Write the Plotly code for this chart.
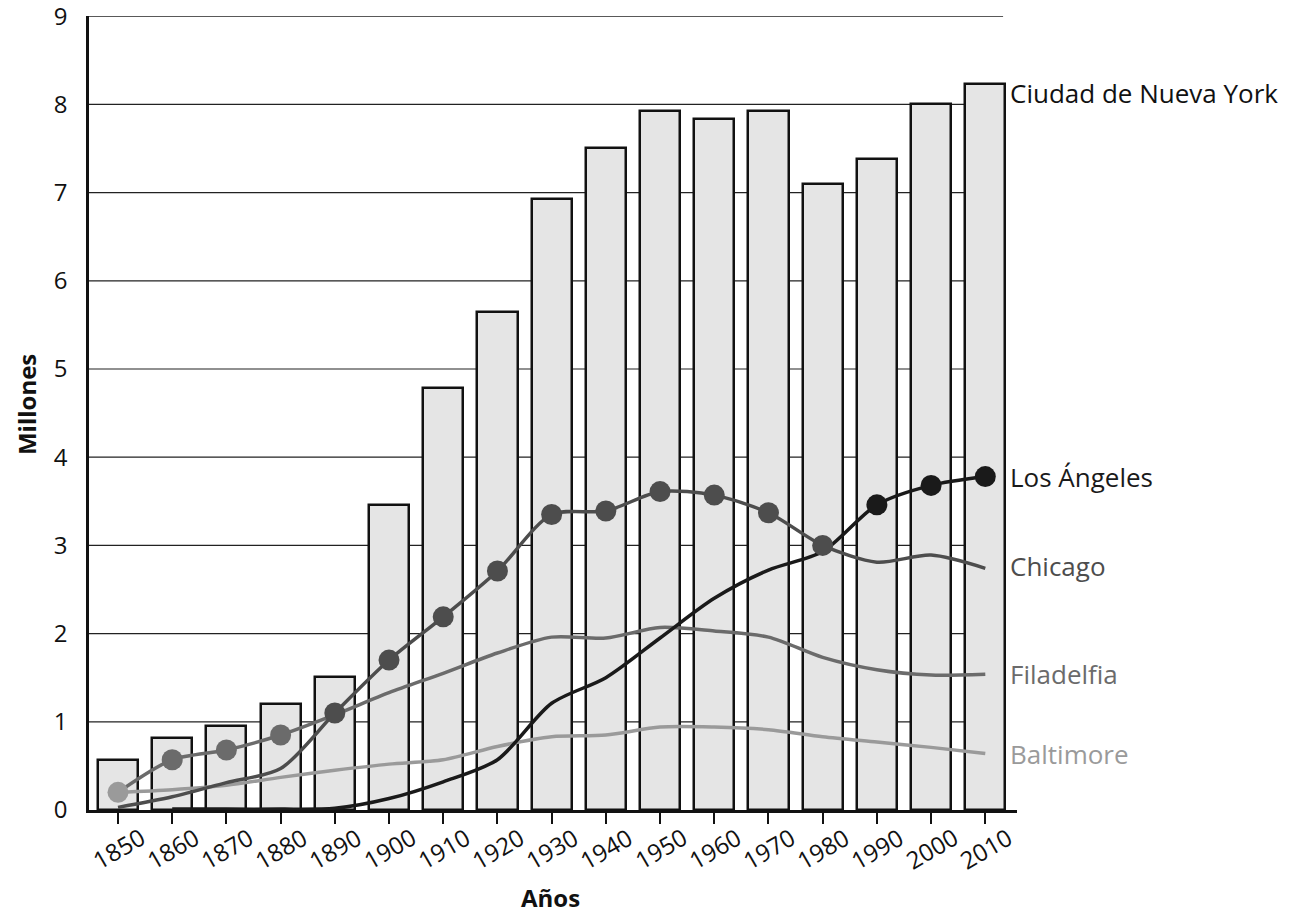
import plotly.graph_objects as go

# ---------------- data (millions of inhabitants) ----------------
years = [1850, 1860, 1870, 1880, 1890, 1900, 1910, 1920, 1930,
         1940, 1950, 1960, 1970, 1980, 1990, 2000, 2010]
tick_labels = [str(y) for y in years]
y_ticks = [0, 1, 2, 3, 4, 5, 6, 7, 8, 9]

nueva_york = [0.57, 0.82, 0.95, 1.20, 1.51, 3.46, 4.78, 5.65, 6.93,
              7.50, 7.92, 7.83, 7.92, 7.10, 7.38, 8.01, 8.23]
chicago = [0.03, 0.15, 0.31, 0.47, 1.10, 1.70, 2.19, 2.71, 3.35,
           3.39, 3.61, 3.57, 3.37, 3.00, 2.81, 2.89, 2.74]
filadelfia = [0.20, 0.57, 0.68, 0.85, 1.08, 1.33, 1.55, 1.78, 1.96,
              1.95, 2.07, 2.03, 1.96, 1.73, 1.59, 1.53, 1.54]
baltimore = [0.20, 0.23, 0.28, 0.37, 0.45, 0.52, 0.57, 0.72, 0.83,
             0.85, 0.94, 0.94, 0.91, 0.83, 0.77, 0.71, 0.64]
los_angeles = [None, 0.01, 0.01, 0.01, 0.02, 0.13, 0.32, 0.57, 1.21,
               1.50, 1.95, 2.40, 2.72, 2.93, 3.46, 3.68, 3.78]

# second largest city in each decade (marked with a dot)
segunda_ciudad = ["Baltimore", "Filadelfia", "Filadelfia", "Filadelfia",
                  "Chicago", "Chicago", "Chicago", "Chicago", "Chicago",
                  "Chicago", "Chicago", "Chicago", "Chicago", "Chicago",
                  "Los Ángeles", "Los Ángeles", "Los Ángeles"]

series = {
    "Baltimore": baltimore,
    "Filadelfia": filadelfia,
    "Chicago": chicago,
    "Los Ángeles": los_angeles,
}
colors = {
    "Baltimore": "#9a9a9a",
    "Filadelfia": "#6b6b6b",
    "Chicago": "#4d4d4d",
    "Los Ángeles": "#1a1a1a",
    "Ciudad de Nueva York": "#111111",
}

FONT = "Open Sans, Noto Sans, DejaVu Sans, sans-serif"

fig = go.Figure()

# NYC bars
fig.add_trace(go.Bar(
    x=years, y=nueva_york, width=7.4,
    marker=dict(color="#e5e5e5", line=dict(color="#111111", width=2.5)),
    showlegend=False, hoverinfo="x+y", name="Ciudad de Nueva York",
))

# city lines
for name, vals in series.items():
    fig.add_trace(go.Scatter(
        x=years, y=vals, mode="lines", name=name,
        line=dict(color=colors[name], width=3.5, shape="spline", smoothing=0.8),
        connectgaps=False, showlegend=False,
    ))

# dots for second largest city
dot_y = [series[c][i] for i, c in enumerate(segunda_ciudad)]
dot_c = [colors[c] for c in segunda_ciudad]
fig.add_trace(go.Scatter(
    x=years, y=dot_y, mode="markers",
    marker=dict(size=21, color=dot_c, line=dict(width=0)),
    showlegend=False, hoverinfo="x+y",
))

# horizontal gridlines (behind bars), ending slightly before axis end
shapes = []
for v in y_ticks[1:]:
    shapes.append(dict(type="line", xref="paper", yref="y", x0=0, x1=0.985,
                       y0=v, y1=v, layer="below",
                       line=dict(color="#222222", width=1.2)))

annotations = []
# rotated x tick labels centred under each tick
for yr, lab in zip(years, tick_labels):
    annotations.append(dict(x=yr, y=0, xref="x", yref="y", text=lab,
                            showarrow=False, textangle=-30,
                            xanchor="center", yanchor="middle", yshift=-38,
                            font=dict(family=FONT, size=24, color="#111111")))

# end labels
end_labels = [
    ("Ciudad de Nueva York", nueva_york[-1], -9),
    ("Los Ángeles", los_angeles[-1], 0),
    ("Chicago", chicago[-1], 2),
    ("Filadelfia", filadelfia[-1], 0),
    ("Baltimore", baltimore[-1], 0),
]
for name, val, dy in end_labels:
    annotations.append(dict(x=years[-1], y=val, xref="x", yref="y", text=name,
                            showarrow=False, xanchor="left", yanchor="middle",
                            xshift=23, yshift=dy,
                            font=dict(family=FONT, size=26, color=colors[name])))

# axis titles
annotations.append(dict(x=0.497, y=0, xref="paper", yref="paper", text="<b>Años</b>",
                        showarrow=False, xanchor="center", yanchor="middle", yshift=-87,
                        font=dict(family=FONT, size=24, color="#111111")))
annotations.append(dict(x=0, y=0.51, xref="paper", yref="paper", text="<b>Millones</b>",
                        showarrow=False, xanchor="center", yanchor="middle", xshift=-63,
                        textangle=-90,
                        font=dict(family=FONT, size=24, color="#111111")))

fig.update_layout(
    width=1291, height=905,
    margin=dict(l=81, r=282, t=8, b=103, pad=0, autoexpand=False),
    paper_bgcolor="white", plot_bgcolor="white",
    font=dict(family=FONT, size=24, color="#111111"),
    shapes=shapes, annotations=annotations,
    bargap=0,
    xaxis=dict(range=[1844.65, 2015.85], tickvals=years, showticklabels=False,
               ticks="outside", ticklen=11, tickwidth=2.2, tickcolor="#111111",
               showgrid=False, zeroline=False, showline=True, automargin=False,
               linecolor="#111111", linewidth=3),
    yaxis=dict(range=[0, 9.002], tickvals=y_ticks, ticks="", showgrid=False,
               zeroline=False, showline=True, linecolor="#111111", linewidth=2.5,
               ticklabelstandoff=14, ticklabeloverflow="allow", automargin=False,
               tickfont=dict(family=FONT, size=24, color="#111111")),
)

fig.write_html("out.html")
